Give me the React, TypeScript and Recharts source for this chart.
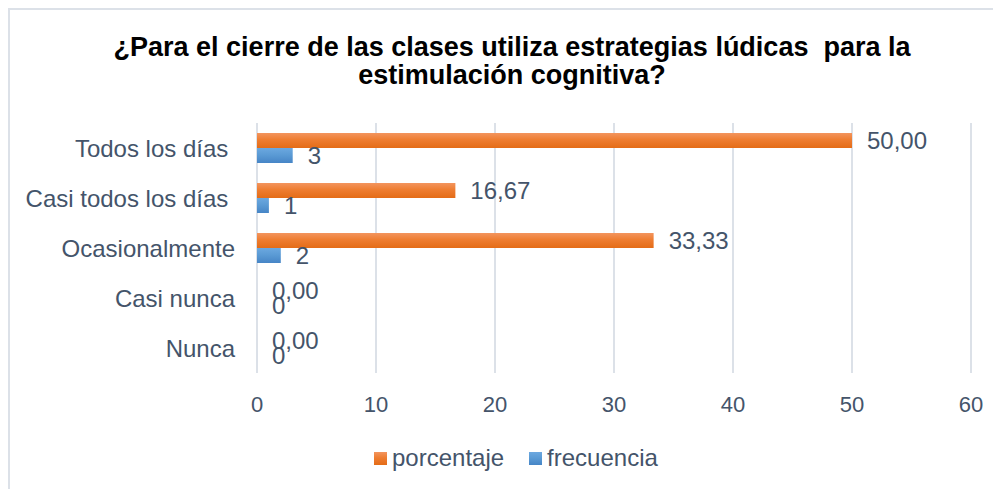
import React from 'react';
import { BarChart, Bar, XAxis, YAxis, CartesianGrid, LabelList } from 'recharts';

const categories = ['Todos los días\u00A0', 'Casi todos los días\u00A0', 'Ocasionalmente', 'Casi nunca', 'Nunca'];
const porcentaje = [50, 16.67, 33.33, 0, 0];
const frecuencia = [3, 1, 2, 0, 0];
const xTicks = [0, 10, 20, 30, 40, 50, 60];
const titleLines = ['¿Para el cierre de las clases utiliza estrategias lúdicas  para la', 'estimulación cognitiva?'];
const seriesNames = ['porcentaje', 'frecuencia'];

const data = categories.map((name, i) => ({ name, porcentaje: porcentaje[i], frecuencia: frecuencia[i] }));

const FONT = '"Liberation Sans", Arial, sans-serif';
const TEXT = '#44546A';

const fmtPct = (v: any) => Number(v).toFixed(2).replace('.', ',');
const fmtInt = (v: any) => String(v);

export default function App() {
  return (
    <div style={{ position: 'relative', width: 993, height: 481, fontFamily: FONT, overflow: 'hidden' }}>
      <div style={{ position: 'absolute', left: 0, top: 0, width: 993, height: 481, borderTop: '2px solid #DCE1E8', borderLeft: '2px solid #DCE1E8', boxSizing: 'border-box' }} />
      <div style={{ position: 'absolute', left: 0, top: 25, width: 1008, textAlign: 'center', fontWeight: 'bold', fontSize: 27, lineHeight: '28px', color: '#000', whiteSpace: 'pre' }}>
        {titleLines.map((l, i) => <div key={i}>{l}</div>)}
      </div>
      <div style={{ position: 'absolute', left: 0, top: 0 }}>
        <BarChart width={993} height={481} data={data} layout="vertical" margin={{ top: 115, right: 30, left: 0, bottom: 76 }} barGap={0}>
          <defs>
            <linearGradient id="gOrange" x1="0" y1="0" x2="0" y2="1">
              <stop offset="0%" stopColor="#F3955E" />
              <stop offset="45%" stopColor="#EE7D31" />
              <stop offset="100%" stopColor="#E46C17" />
            </linearGradient>
            <linearGradient id="gBlue" x1="0" y1="0" x2="0" y2="1">
              <stop offset="0%" stopColor="#6CA8E0" />
              <stop offset="45%" stopColor="#5B9BD5" />
              <stop offset="100%" stopColor="#4685C6" />
            </linearGradient>
          </defs>
          <CartesianGrid horizontal={false} vertical={true} stroke="#DCE1E8" strokeWidth={2} />
          <XAxis type="number" domain={[0, 60]} ticks={xTicks} interval={0} axisLine={false} tickLine={false} height={40} tickMargin={17}
            tick={{ fill: TEXT, fontSize: 22, fontFamily: FONT }} />
          <YAxis type="category" dataKey="name" width={249} axisLine={false} tickLine={false} tickMargin={16}
            tick={{ fill: TEXT, fontSize: 24, fontFamily: FONT }} />
          <Bar dataKey="porcentaje" name={seriesNames[0]} fill="url(#gOrange)" barSize={15} minPointSize={0.01} isAnimationActive={false}>
            <LabelList dataKey="porcentaje" position="right" offset={15} formatter={fmtPct} fill={TEXT} fontSize={24} fontFamily={FONT} />
          </Bar>
          <Bar dataKey="frecuencia" name={seriesNames[1]} fill="url(#gBlue)" barSize={15} minPointSize={0.01} isAnimationActive={false}>
            <LabelList dataKey="frecuencia" position="right" offset={15} formatter={fmtInt} fill={TEXT} fontSize={24} fontFamily={FONT} />
          </Bar>
        </BarChart>
      </div>
      <div style={{ position: 'absolute', left: 366, top: 436, display: 'flex', alignItems: 'center', fontSize: 24, color: TEXT, lineHeight: '28px' }}>
        <span style={{ display: 'inline-block', width: 13, height: 13, background: 'linear-gradient(#F3955E, #EE7D31 45%, #E46C17)', marginRight: 5 }} />
        <span>{seriesNames[0]}</span>
        <span style={{ display: 'inline-block', width: 13, height: 13, background: 'linear-gradient(#6CA8E0, #5B9BD5 45%, #4685C6)', marginLeft: 25, marginRight: 5 }} />
        <span>{seriesNames[1]}</span>
      </div>
    </div>
  );
}
